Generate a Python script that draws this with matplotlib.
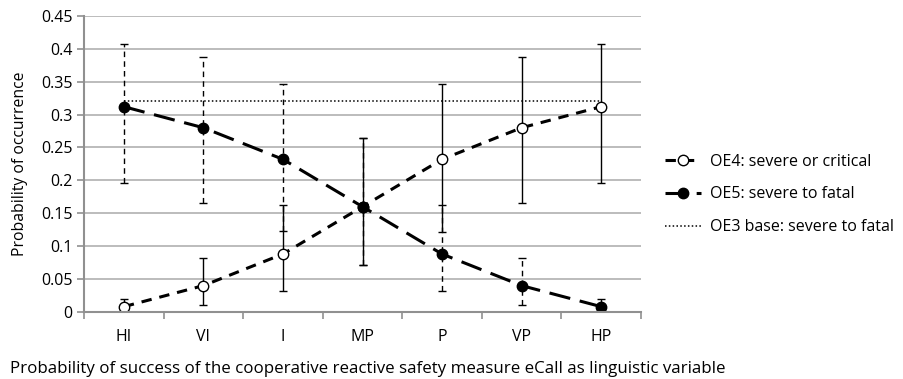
import matplotlib.pyplot as plt
import numpy as np

plt.rcParams['font.family'] = ['Open Sans', 'DejaVu Sans']

categories = ['HI', 'VI', 'I', 'MP', 'P', 'VP', 'HP']

oe4 = [0.008, 0.040, 0.088, 0.160, 0.232, 0.280, 0.312]
oe4_low = [0.000, 0.010, 0.032, 0.072, 0.122, 0.165, 0.196]
oe4_high = [0.020, 0.082, 0.163, 0.265, 0.347, 0.388, 0.408]

oe5 = [0.312, 0.280, 0.232, 0.160, 0.088, 0.040, 0.008]
oe5_low = [0.196, 0.165, 0.123, 0.072, 0.032, 0.010, 0.000]
oe5_high = [0.408, 0.388, 0.347, 0.265, 0.163, 0.082, 0.020]

oe3_base = 0.32

x = np.arange(len(categories))

fig = plt.figure(figsize=(9.04, 3.79), dpi=100)
ax = fig.add_axes([0.093, 0.177, 0.616, 0.781])

ax.yaxis.grid(True, color='#b0b0b0', linewidth=1.2)
ax.set_axisbelow(True)

# error bars: dashed for OE5, solid for OE4
e4 = [np.array(oe4) - np.array(oe4_low), np.array(oe4_high) - np.array(oe4)]
e5 = [np.array(oe5) - np.array(oe5_low), np.array(oe5_high) - np.array(oe5)]
eb = ax.errorbar(x, oe5, yerr=e5, fmt='none', ecolor='black', elinewidth=1,
                 capsize=3, capthick=1)
eb[2][0].set_linestyle((0, (4, 3)))
ax.errorbar(x, oe4, yerr=e4, fmt='none', ecolor='black', elinewidth=1,
            capsize=3, capthick=1)

l3, = ax.plot([x[0], x[-1]], [oe3_base, oe3_base], color='black', linestyle=(0, (1, 1.5)),
              linewidth=1.1, label='OE3 base: severe to fatal')

l4, = ax.plot(x, oe4, color='black', linewidth=2.2, dashes=(3.4, 2.6),
              marker='o', markersize=7.5, markerfacecolor='white',
              markeredgecolor='black', markeredgewidth=1, label='OE4: severe or critical')
l5, = ax.plot(x, oe5, color='black', linewidth=2.2, dashes=(7, 3.2),
              marker='o', markersize=7.5, markerfacecolor='black',
              markeredgecolor='black', label='OE5: severe to fatal')

ax.set_xlim(-0.5, len(categories) - 0.5)
ax.set_ylim(0, 0.45)
ax.set_yticks(np.arange(0, 0.451, 0.05))
ax.set_yticklabels(['0', '0.05', '0.1', '0.15', '0.2', '0.25', '0.3', '0.35', '0.4', '0.45'])
ax.set_xticks(x)
ax.set_xticklabels(categories)
ax.set_xticks(np.arange(-0.5, len(categories), 1), minor=True)
ax.tick_params(axis='x', which='major', length=0, pad=12, labelsize=11.5)
ax.tick_params(axis='x', which='minor', length=5, color='#909090', width=1.2)
ax.tick_params(axis='y', length=5, color='#909090', width=1.2, labelsize=11.5)

for s in ['top', 'right']:
    ax.spines[s].set_visible(False)
for s in ['left', 'bottom']:
    ax.spines[s].set_color('#909090')
    ax.spines[s].set_linewidth(1.5)

ax.set_ylabel('Probability of occurrence', fontsize=11.3)
ax.yaxis.set_label_coords(-0.1, 0.5)
fig.text(0.011, 0.026, 'Probability of success of the cooperative reactive safety measure eCall as linguistic variable',
         fontsize=12.2, va='center', ha='left')

fig.legend(handles=[l4, l5, l3], loc='center left',
           bbox_to_anchor=(0.729, 0.487), frameon=False, fontsize=11.5,
           handlelength=2.2, handletextpad=0.6, labelspacing=1.05,
           borderaxespad=0)

fig.savefig('out.png', dpi=100)
